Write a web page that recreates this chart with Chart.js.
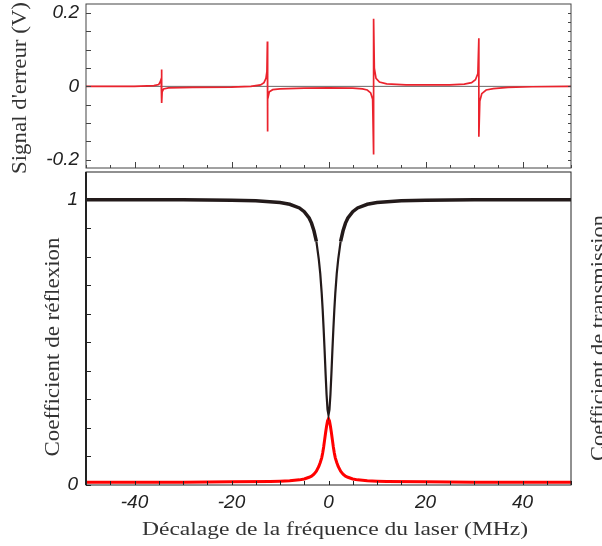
<!DOCTYPE html>
<html lang="fr">
<head>
<meta charset="UTF-8">
<title>Signal d'erreur et coefficients</title>
<script src="https://cdn.jsdelivr.net/npm/chart.js"></script>
<style>
    body { margin: 0; background: #fff; }
    #wrap { position: relative; width: 602px; height: 546px; }
    #wrap canvas { position: absolute; left: 0; top: 0; }
</style>
</head>
<body>
<div id="wrap">
    <canvas id="basChart" width="602" height="546"></canvas>
    <canvas id="hautChart" width="602" height="546"></canvas>
</div>
<script>
    // ---- données ----
    // signal d'erreur (V) en fonction du décalage (MHz)
    const errX = [-50, -40, -36, -35, -34.7, -34.5, -34.4, -34.4, -34.3, -34.0, -33, -28, -20, -16, -14, -13.3, -12.9, -12.7, -12.6, -12.6, -12.5, -12.2, -11.5, -10, -5, 0, 5, 7, 8, 8.7, 9.1, 9.3, 9.3, 9.45, 9.8, 10.5, 12, 16, 25, 28, 29.5, 30.3, 30.8, 31.0, 31.0, 31.2, 31.6, 32.5, 34, 37, 42, 50];
    const errY = [0, 0, 0.002, 0.005, 0.012, 0.02, 0.046, -0.045, -0.015, -0.007, -0.004, -0.003, -0.002, 0, 0.004, 0.01, 0.022, 0.04, 0.122, -0.123, -0.035, -0.015, -0.009, -0.007, -0.005, -0.004, -0.005, -0.007, -0.01, -0.018, -0.035, -0.186, 0.184, 0.05, 0.022, 0.012, 0.007, 0.004, 0.004, 0.006, 0.01, 0.018, 0.035, 0.131, -0.137, -0.04, -0.02, -0.01, -0.006, -0.003, -0.001, 0];

    // coefficient de réflexion
    const reflX = [-50, -40, -30, -20, -15, -10, -8, -6, -5, -4, -3.5, -3, -2.5, -2, -1.7, -1.4, -1.2, -1, -0.8, -0.6, -0.4, -0.2, 0, 0.2, 0.4, 0.6, 0.8, 1, 1.2, 1.4, 1.7, 2, 2.5, 3, 3.5, 4, 5, 6, 8, 10, 15, 20, 30, 40, 50];
    const reflY = [0.999, 0.999, 0.999, 0.997, 0.995, 0.989, 0.983, 0.97, 0.957, 0.935, 0.917, 0.89, 0.853, 0.79, 0.74, 0.671, 0.613, 0.545, 0.47, 0.39, 0.317, 0.264, 0.245, 0.264, 0.317, 0.39, 0.47, 0.545, 0.613, 0.671, 0.74, 0.79, 0.853, 0.89, 0.917, 0.935, 0.957, 0.97, 0.983, 0.989, 0.995, 0.997, 0.999, 0.999, 0.999];

    // coefficient de transmission
    const transX = [-50, -30, -20, -12, -10, -8, -6, -5, -4, -3.5, -3, -2.5, -2, -1.7, -1.4, -1.2, -1, -0.8, -0.6, -0.4, -0.2, 0, 0.2, 0.4, 0.6, 0.8, 1, 1.2, 1.4, 1.7, 2, 2.5, 3, 3.5, 4, 5, 6, 8, 10, 12, 20, 30, 50];
    const transY = [0.01, 0.01, 0.011, 0.012, 0.013, 0.0145, 0.018, 0.021, 0.027, 0.031, 0.038, 0.048, 0.065, 0.079, 0.095, 0.112, 0.133, 0.158, 0.183, 0.206, 0.224, 0.232, 0.224, 0.206, 0.183, 0.158, 0.133, 0.112, 0.095, 0.079, 0.065, 0.048, 0.038, 0.031, 0.027, 0.021, 0.018, 0.0145, 0.013, 0.012, 0.011, 0.01, 0.01];

    // graduations
    const xTicks = [-50, -45, -40, -35, -30, -25, -20, -15, -10, -5, 0, 5, 10, 15, 20, 25, 30, 35, 40, 45, 50];
    const xLabels = [-40, -20, 0, 20, 40];
    const yHautTicks = [-0.2, -0.15, -0.1, -0.05, 0, 0.05, 0.1, 0.15, 0.2];
    const yHautDroite = [-0.2, -0.175, -0.15, -0.125, -0.1, -0.075, -0.05, -0.025, 0, 0.025, 0.05, 0.075, 0.1, 0.125, 0.15, 0.175, 0.2];
    const yHautLabels = [-0.2, 0, 0.2];
    const yBasTicks = [0, 0.1, 0.2, 0.3, 0.4, 0.5, 0.6, 0.7, 0.8, 0.9, 1];
    const yBasLabels = [0, 1];

    const toPts = (xs, ys) => xs.map((x, i) => ({ x: x, y: ys[i] }));
    const has = (arr, v) => arr.some(m => Math.abs(m - v) < 1e-9);
    const labelFor = (arr) => (v) => {
        const m = arr.find(a => Math.abs(a - v) < 1e-9);
        return m === undefined ? '' : String(m);
    };
    // pas de marge automatique autour des axes
    const noPad = (w, h) => (s) => {
        if (w) s.width = w;
        if (h) s.height = h;
        s.paddingTop = 0; s.paddingBottom = 0;
        s.paddingLeft = 0; s.paddingRight = 0;
    };

    const tickFont = { family: 'Liberation Sans', style: 'italic', size: 19 };

    // petites graduations vers l'intérieur + cadre
    const inTicks = {
        id: 'inTicks',
        afterDraw(chart, args, opts) {
            const ctx = chart.ctx, a = chart.chartArea;
            const xs = chart.scales.x, ys = chart.scales.y;
            ctx.save();
            ctx.strokeStyle = opts.color || '#222';
            ctx.lineWidth = 1;
            ctx.beginPath();
            (opts.left || []).forEach(v => {
                const y = Math.round(ys.getPixelForValue(v)) + 0.5;
                ctx.moveTo(a.left, y);
                ctx.lineTo(a.left + opts.len, y);
            });
            (opts.right || []).forEach(v => {
                const y = Math.round(ys.getPixelForValue(v)) + 0.5;
                ctx.moveTo(a.right, y);
                ctx.lineTo(a.right - opts.rlen, y);
            });
            (opts.bottom || []).forEach(v => {
                const x = Math.round(xs.getPixelForValue(v)) + 0.5;
                const l = has(opts.major || [], v) ? opts.majorLen : opts.blen;
                ctx.moveTo(x, a.bottom);
                ctx.lineTo(x, a.bottom - l);
            });
            ctx.stroke();
            ctx.lineWidth = opts.frame || 1;
            ctx.strokeRect(a.left, a.top, a.right - a.left, a.bottom - a.top);
            if (opts.leftWidth) {
                ctx.lineWidth = opts.leftWidth;
                ctx.beginPath();
                ctx.moveTo(a.left, a.top);
                ctx.lineTo(a.left, a.bottom);
                ctx.stroke();
            }
            ctx.restore();
        }
    };

    // titres des axes
    const titres = {
        id: 'titres',
        afterDraw(chart, args, opts) {
            const ctx = chart.ctx;
            (opts.items || []).forEach(t => {
                ctx.save();
                ctx.font = t.size + 'px "Liberation Serif"';
                ctx.fillStyle = '#333';
                ctx.textAlign = 'center';
                ctx.textBaseline = 'middle';
                ctx.translate(t.x, t.y);
                ctx.rotate(t.rot || 0);
                const w = ctx.measureText(t.text).width;
                if (t.width) ctx.scale(t.width / w, 1);
                ctx.fillText(t.text, 0, 0);
                ctx.restore();
            });
        }
    };

    // ---- graphe du haut : signal d'erreur ----
    new Chart(document.getElementById('hautChart'), {
        type: 'scatter',
        data: {
            datasets: [{
                data: [{ x: -50, y: 0 }, { x: 50, y: 0 }],
                showLine: true,
                borderColor: '#666',
                borderWidth: 1,
                pointRadius: 0,
                order: 2
            }, {
                data: toPts(errX, errY),
                showLine: true,
                borderColor: 'rgb(235,35,45)',
                borderWidth: 1.7,
                pointRadius: 0,
                order: 1
            }]
        },
        options: {
            responsive: false,
            animation: false,
            events: [],
            layout: { padding: { left: 0, right: 31, top: 4, bottom: 378 } },
            plugins: {
                legend: { display: false },
                tooltip: { enabled: false },
                inTicks: { left: yHautTicks, right: yHautDroite, bottom: xTicks, major: xLabels, len: 5, rlen: 3, blen: 3, majorLen: 6, color: '#444', frame: 1 },
                titres: { items: [{ text: "Signal d'erreur (V)", x: 20, y: 88, rot: -Math.PI / 2, size: 21, width: 172 }] }
            },
            scales: {
                x: { type: 'linear', min: -50, max: 50, display: false },
                y: {
                    min: -0.2225, max: 0.2245,
                    afterFit: noPad(86, 0),
                    afterBuildTicks: s => { s.ticks = yHautTicks.map(v => ({ value: v })); },
                    grid: { display: false, drawTicks: false },
                    border: { display: false },
                    ticks: { padding: 7, font: tickFont, color: '#222', callback: labelFor(yHautLabels) }
                }
            }
        },
        plugins: [inTicks, titres]
    });

    // ---- graphe du bas : réflexion et transmission ----
    new Chart(document.getElementById('basChart'), {
        type: 'scatter',
        data: {
            datasets: [{
                data: toPts(reflX, reflY),
                showLine: true,
                borderColor: '#231a1a',
                borderWidth: 3.5,
                pointRadius: 0,
                order: 1,
                segment: {
                    // le creux est tracé plus fin
                    borderWidth: c => (Math.abs(c.p0.parsed.x) < 3 && Math.abs(c.p1.parsed.x) < 3) ? 2.2 : undefined
                }
            }, {
                data: toPts(transX, transY),
                showLine: true,
                borderColor: '#f00',
                borderWidth: 3,
                pointRadius: 0,
                order: 2
            }]
        },
        options: {
            responsive: false,
            animation: false,
            events: [],
            layout: { padding: { left: 0, right: 31, top: 172, bottom: 0 } },
            plugins: {
                legend: { display: false },
                tooltip: { enabled: false },
                inTicks: { left: yBasTicks, bottom: xTicks, major: xLabels, len: 5, blen: 4, majorLen: 4, color: '#222', frame: 1, leftWidth: 2 },
                titres: {
                    items: [
                        { text: 'Coefficient de réflexion', x: 54, y: 347, rot: -Math.PI / 2, size: 20, width: 219 },
                        { text: 'Coefficient de transmission', x: 600, y: 338, rot: -Math.PI / 2, size: 20, width: 246 },
                        { text: 'Décalage de la fréquence du laser (MHz)', x: 335, y: 530, rot: 0, size: 19, width: 386 }
                    ]
                }
            },
            scales: {
                x: {
                    type: 'linear', min: -50, max: 50,
                    afterFit: noPad(0, 61),
                    afterBuildTicks: s => { s.ticks = xTicks.map(v => ({ value: v })); },
                    grid: { display: false, drawTicks: false },
                    border: { display: false },
                    ticks: { padding: 6, autoSkip: false, maxRotation: 0, font: tickFont, color: '#222', callback: labelFor(xLabels) }
                },
                y: {
                    min: 0, max: 1.096,
                    afterFit: noPad(86, 0),
                    afterBuildTicks: s => { s.ticks = yBasTicks.map(v => ({ value: v })); },
                    grid: { display: false, drawTicks: false },
                    border: { display: false },
                    ticks: { padding: 8, font: tickFont, color: '#222', callback: labelFor(yBasLabels) }
                }
            }
        },
        plugins: [inTicks, titres]
    });
</script>
</body>
</html>
